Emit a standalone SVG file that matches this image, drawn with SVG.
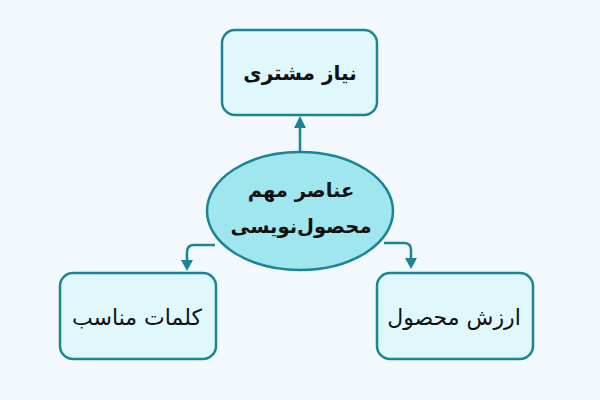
<svg xmlns="http://www.w3.org/2000/svg" width="600" height="400" viewBox="0 0 600 400">
<defs>
<style>
.box{fill:#e0f8fb;stroke:#1b8595;stroke-width:2.5}
.hub{fill:#9fe6ef;stroke:#1b8595;stroke-width:2.5}
.con{fill:none;stroke:#1b8595;stroke-width:2.5}
.t{font-family:"DejaVu Sans",sans-serif;fill:#111;text-anchor:middle;direction:rtl}
</style>
</defs>
<rect width="600" height="400" fill="#f3f8fd"/>
<g id="connectors">
<path class="con" d="M300,152 L300,125"/>
<path d="M294,128 L300,116 L306,128 Z" fill="#1b8595"/>
<path class="con" d="M215,245 L194,245 Q187,245 187,252 L187,262"/>
<path d="M181,260 L187,271 L193,260 Z" fill="#1b8595"/>
<path class="con" d="M384,243 L404,243 Q411,243 411,250 L411,260"/>
<path d="M405,258 L411,269 L417,258 Z" fill="#1b8595"/>
</g>
<g id="node-top">
<rect class="box" x="222" y="30" width="155" height="85" rx="13"/>
<text class="t" x="300" y="80" font-size="20" font-weight="bold">نیاز مشتری</text>
</g>
<g id="node-center">
<ellipse class="hub" cx="300" cy="211" rx="93" ry="59"/>
<text class="t" x="301" y="197" font-size="19.5" font-weight="bold">عناصر مهم</text>
<text class="t" x="301" y="233" font-size="19.5" font-weight="bold">محصول‌نویسی</text>
</g>
<g id="node-left">
<rect class="box" x="60" y="273" width="156" height="86" rx="13"/>
<text class="t" x="137" y="325" font-size="22">کلمات مناسب</text>
</g>
<g id="node-right">
<rect class="box" x="377" y="273" width="156" height="86" rx="13"/>
<text class="t" x="454" y="325" font-size="22">ارزش محصول</text>
</g>
</svg>
